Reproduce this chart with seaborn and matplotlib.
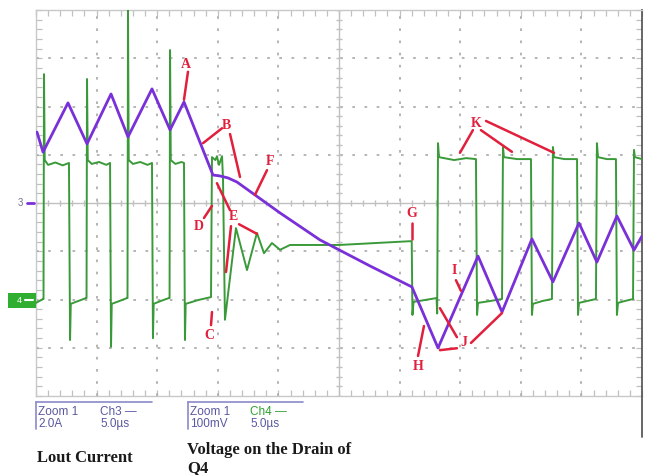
import numpy as np
import pandas as pd
import matplotlib
matplotlib.use("Agg")
import matplotlib.pyplot as plt
import seaborn as sns
from matplotlib.lines import Line2D
from matplotlib.patches import Rectangle

sns.set_style("white")

# ---------------- data ----------------
# Scope settings
time_per_div = 5.0      # us / div
amp_per_div = 2.0       # A / div  (Ch3, inductor current)
mv_per_div = 100.0      # mV / div (Ch4, drain voltage)
ch3_ground_div = 0.0
ch4_ground_div = -2.01

# Ch3: Lout current (A) vs time (us)
ch3_t = [0.08, 0.58, 2.64, 4.21, 6.19, 7.59, 9.57, 11.06, 12.21, 14.60, 15.18,
         15.84, 16.58, 20.13, 23.43, 27.56, 31.02, 33.17, 36.47, 38.45, 40.92,
         42.65, 44.80, 46.28, 47.93, 49.34, 50.0]
ch3_amp = [2.94, 2.11, 4.15, 2.45, 4.52, 2.74, 4.73, 3.03, 4.19, 1.16, 1.12,
           1.04, 0.87, -0.41, -1.53, -2.61, -3.48, -6.01, -2.20, -4.52, -1.49,
           -3.27, -0.83, -2.45, -0.54, -1.95, -1.37]

# Ch4: drain voltage of Q4 (mV) vs time (us)
ch4_t = [0.0, 0.58,
         0.62, 0.66, 0.72, 1.0, 1.6, 2.2, 2.72, 2.81, 2.87, 3.5, 4.13,
         4.17, 4.21, 4.27, 4.6, 5.2, 5.8, 6.11, 6.19, 6.25, 6.9, 7.51,
         7.55, 7.59, 7.65, 8.0, 8.6, 9.2, 9.57, 9.65, 9.71, 10.3, 10.97,
         11.02, 11.06, 11.12, 11.5, 12.0, 12.21, 12.29, 12.35, 13.4, 14.44,
         14.52, 14.8, 14.93, 15.10, 15.35, 15.43, 15.59, 16.5, 17.41, 18.23,
         18.81, 19.47, 20.13, 20.96, 25.0, 31.0,
         31.06, 31.15, 32.1, 33.05, 33.1, 33.17, 33.25, 34.5, 35.5, 36.3,
         36.39, 36.47, 37.5, 38.45, 38.53, 38.61, 39.7, 40.84,
         40.92, 41.0, 41.8, 42.57, 42.65, 42.74, 43.6, 44.64,
         44.72, 44.80, 45.5, 46.2, 46.28, 46.37, 47.1, 47.85,
         47.93, 48.02, 48.6, 49.26, 49.34, 49.42, 50.0]
ch4_mv = [-6, 2,
          2, 468, 290, 280, 285, 279, 284, -83, -8, -2, 4,
          4, 458, 290, 282, 286, 280, 284, -97, -8, -2, 4,
          4, 601, 290, 282, 286, 280, 284, -79, -8, -2, 4,
          4, 518, 290, 282, 286, 284, -83, -8, 0, 6,
          296, 290, 298, 280, 298, 250, -41, 149, 62, 139,
          97, 118, 104, 114, 114, 122,
          -31, -4, 0, 4, -28, 325, 296, 290, 294, 292,
          -31, -6, -2, 2, 317, 296, 292, 292,
          -31, -8, -2, 2, 317, 296, 292, 292,
          -31, -6, -2, 2, 325, 296, 292, 292,
          -31, -6, -2, 2, 311, 296, 292]

# Callout labels (time us, position div) and their pointer lines
label_text = ["A", "B", "F", "D", "E", "C", "G", "H", "I", "J", "K"]
label_t = [12.38, 15.68, 19.31, 13.45, 16.25, 14.27, 31.02, 31.52, 34.49, 35.31, 36.30]
label_d = [2.88, 1.60, 0.87, -0.48, -0.29, -2.74, -0.21, -3.38, -1.39, -2.90, 1.64]
pointer_t = [[12.54, 12.21], [15.35, 13.78], [16.01, 16.83], [19.06, 18.07],
             [13.86, 14.52], [16.01, 14.93], [16.75, 18.23], [16.09, 15.68],
             [14.44, 14.52], [31.02, 31.02], [31.52, 32.01], [34.65, 35.06],
             [34.73, 33.33], [34.73, 33.33], [35.89, 38.45],
             [36.05, 34.98], [36.71, 39.27], [37.13, 42.74]]
pointer_d = [[2.72, 2.14], [1.55, 1.24], [1.43, 0.54], [0.68, 0.17],
             [-0.31, -0.06], [-0.15, 0.41], [-0.44, -0.64], [-0.48, -1.43],
             [-2.53, -2.26], [-0.41, -0.75], [-3.17, -2.55], [-1.60, -1.82],
             [-2.78, -2.18], [-3.01, -3.05], [-2.90, -2.28],
             [1.51, 1.04], [1.51, 1.06], [1.70, 1.04]]

# ---------------- figure ----------------
W, H = 647, 475
fig = plt.figure(figsize=(W / 100, H / 100), dpi=100)
fig.patch.set_facecolor("white")
ax = fig.add_axes([36 / W, 1 - 396 / H, 606 / W, 386 / H])
ax.set_facecolor("white")

x_max = 10 * time_per_div
ax.set_xlim(0, x_max)
ax.set_ylim(-4, 4)

grid_c = "#a8a8a8"
tick_c = "#c0c0c0"
# dotted graticule
for k in range(1, 10):
    if k != 5:
        ax.axvline(k * time_per_div, color=grid_c, lw=1.2, ls=(0, (1.6, 5.7)), zorder=1)
for k in range(-3, 4):
    if k != 0:
        ax.axhline(k, color=grid_c, lw=1.2, ls=(0, (1.6, 5.7)), zorder=1)
# centre cross with minor ticks
ax.axvline(x_max / 2, color=tick_c, lw=1.0, zorder=1)
ax.axhline(0, color=tick_c, lw=1.0, zorder=1)
ax.plot(np.arange(0, x_max + 0.01, time_per_div / 5), np.zeros(51), ls="none",
        marker="|", ms=5, color=tick_c, mew=1.0, zorder=1)
ax.plot(np.full(41, x_max / 2), np.arange(-4, 4.01, 0.2), ls="none",
        marker="_", ms=5, color=tick_c, mew=1.0, zorder=1)

# border
for s in ["left", "top", "bottom"]:
    ax.spines[s].set_color("#c8c8c8")
    ax.spines[s].set_linewidth(1.0)
ax.spines["right"].set_color("#5a5a5a")
ax.spines["right"].set_linewidth(1.3)
ax.set_xticks([])
ax.set_yticks([])
ax.set_xticks(np.arange(0, x_max + 0.01, time_per_div / 5), minor=True)
ax.set_yticks(np.arange(-4, 4.01, 0.2), minor=True)
ax.tick_params(which="minor", direction="in", length=4, width=0.9, color=tick_c,
               top=True, bottom=True, left=True, right=True,
               labelbottom=False, labelleft=False)

# traces
green = "#3a9a3a"
purple = "#7a30d8"
df4 = pd.DataFrame({"t": ch4_t, "div": np.array(ch4_mv) / mv_per_div + ch4_ground_div})
df3 = pd.DataFrame({"t": ch3_t, "div": np.array(ch3_amp) / amp_per_div + ch3_ground_div})
sns.lineplot(data=df4, x="t", y="div", ax=ax, color=green, lw=1.4,
             estimator=None, sort=False, zorder=3)
sns.lineplot(data=df3, x="t", y="div", ax=ax, color=purple, lw=2.0,
             estimator=None, sort=False, zorder=4)
ax.set_xlabel("")
ax.set_ylabel("")

# callouts
red = "#e0203c"
for tt, dd in zip(pointer_t, pointer_d):
    ax.plot(tt, dd, color=red, lw=1.8, solid_capstyle="round", zorder=5)
for txt, tt, dd in zip(label_text, label_t, label_d):
    ax.text(tt, dd, txt, color=red, fontsize=10, fontweight="bold",
            family="Liberation Serif", ha="center", va="center", zorder=6)

# ---------------- decorations outside the graticule ----------------
def fx(px):
    return px / W

def fy(py):
    return 1 - py / H

# right dark edge extending below
fig.add_artist(Line2D([fx(642), fx(642)], [fy(396), fy(437)], color="#5a5a5a", lw=1.3))

# channel ground markers
fig.text(fx(20), fy(203), "3", color="#707090", fontsize=7, ha="center", va="center",
         family="Liberation Sans")
fig.add_artist(Line2D([fx(27), fx(34)], [fy(203), fy(203)], color=purple, lw=2))
fig.add_artist(Rectangle((fx(8), fy(308)), fx(28), 15 / H, color="#2fae2f", lw=0))
fig.text(fx(19), fy(300.5), "4", color="white", fontsize=6.5, ha="center", va="center",
         family="Liberation Sans")
fig.add_artist(Line2D([fx(25), fx(33)], [fy(300), fy(300)], color="white", lw=1.5))

# channel info boxes
box_c = "#8a8ac8"
txt_c = "#5858a0"
for x0, x1 in [(36, 152), (188, 303)]:
    fig.add_artist(Line2D([fx(x0), fx(x1)], [fy(402), fy(402)], color=box_c, lw=1.2))
    fig.add_artist(Line2D([fx(x0), fx(x0)], [fy(402), fy(429)], color=box_c, lw=1.2))
fs_box = 8.5
fam = "Liberation Sans"
fig.text(fx(38), fy(412), "Zoom 1", color=txt_c, fontsize=fs_box, va="center", family=fam)
fig.text(fx(100), fy(412), "Ch3 \u2014", color=txt_c, fontsize=fs_box, va="center", family=fam)
fig.text(fx(38), fy(424), "2.0A", color=txt_c, fontsize=fs_box, va="center", family=fam)
fig.text(fx(100), fy(424), "5.0\u00b5s", color=txt_c, fontsize=fs_box, va="center", family=fam)
fig.text(fx(190), fy(412), "Zoom 1", color=txt_c, fontsize=fs_box, va="center", family=fam)
fig.text(fx(250), fy(412), "Ch4 \u2014", color="#30a030", fontsize=fs_box, va="center", family=fam)
fig.text(fx(190), fy(424), "100mV", color=txt_c, fontsize=fs_box, va="center", family=fam)
fig.text(fx(250), fy(424), "5.0\u00b5s", color=txt_c, fontsize=fs_box, va="center", family=fam)

# captions
cap = dict(color="#1a1a1a", fontsize=12, fontweight="bold", family="Liberation Serif", va="center")
fig.text(fx(37), fy(458), "Lout Current", **cap)
fig.text(fx(187), fy(450), "Voltage on the Drain of", **cap)
fig.text(fx(187), fy(468), "Q4", **cap)

fig.savefig("out.png", dpi=100, facecolor="white")
